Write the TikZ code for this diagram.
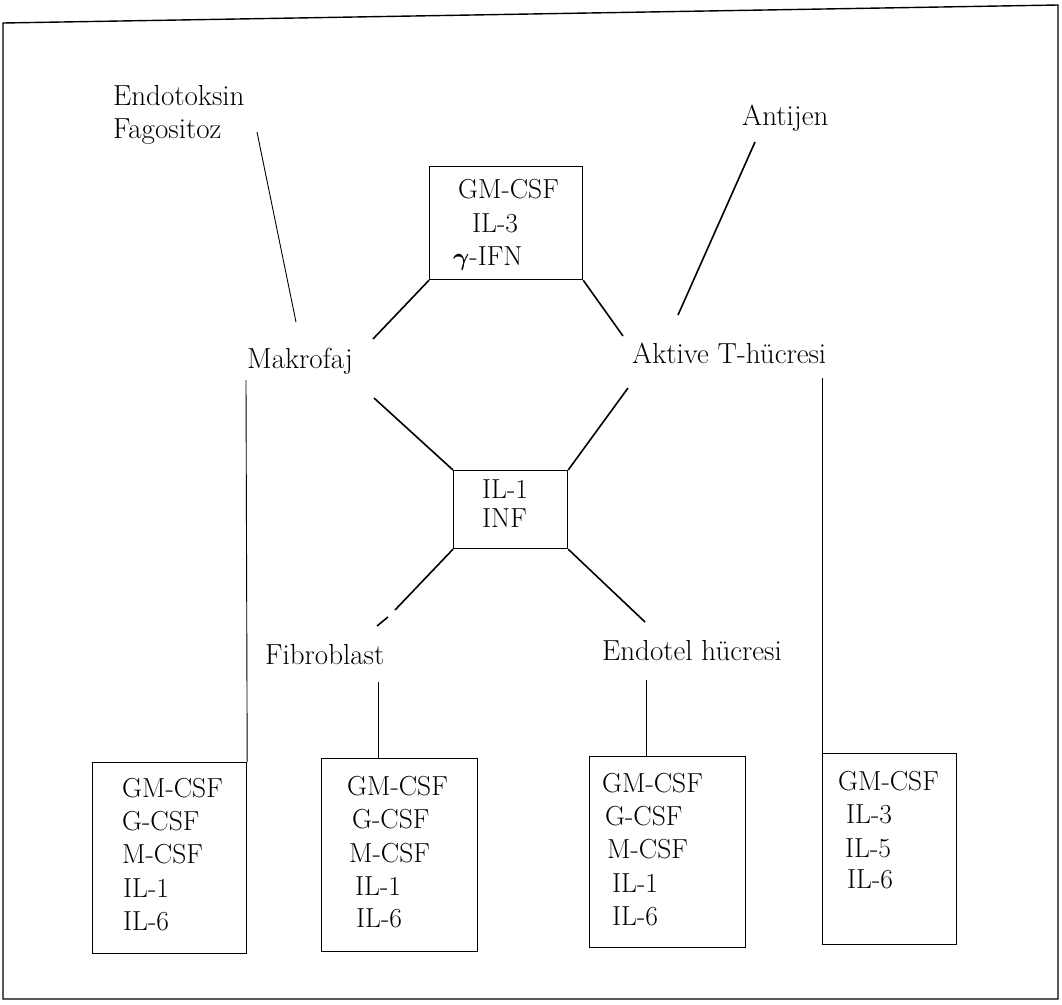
\documentclass[tikz,border=0pt]{standalone}
\begin{document}
\begin{tikzpicture}[x=1pt,y=-1pt,
  lbl/.style={font=\fontsize{27.5}{32}\selectfont, inner sep=0pt, anchor=base west},
  word/.style={lbl, font=\fontsize{29}{34}\selectfont},
  bx/.style={draw, line width=1.2pt, inner sep=0pt, anchor=north west},
  conn/.style={line width=1.6pt},
  vconn/.style={line width=0.9pt},
  frame/.style={line width=1.4pt}]
\useasboundingbox (0,0) rectangle (1062,1004);
% outer frame
\draw[frame] (3,23) -- (1058,5) -- (1058,999) -- (3,999) -- cycle;

% boxes
\node[bx, minimum width=153, minimum height=113] (topbox) at (429,166) {};
\node[bx, minimum width=114, minimum height=78]  (ilbox)  at (453,470) {};
\node[bx, minimum width=154, minimum height=191] (mbox)   at (92,762)  {};
\node[bx, minimum width=156, minimum height=193] (fbox)   at (321,758) {};
\node[bx, minimum width=156, minimum height=191] (ebox)   at (589,756) {};
\node[bx, minimum width=134, minimum height=191] (tbox)   at (822,753) {};

% free labels
\node[word] (endo)  at (113,105) {Endotoksin};
\node[word] (fago)  at (113,138) {Fagositoz};
\node[word] (anti)  at (742,125) {Antijen};
\node[word] (makro) at (247,368) {Makrofaj};
\node[word] (tcell) at (632,363) {Aktive T-hücresi};
\node[word] (fibro) at (265,664) {Fibroblast};
\node[word] (endot) at (602,660) {Endotel hücresi};

% top box contents
\node[lbl] (tb1) at (458,198) {GM-CSF};
\node[lbl] (tb2) at (472,232) {IL-3};
\node[lbl] (tb3) at (453,265) {{\boldmath$\gamma$}-IFN};

% IL-1 box contents
\node[lbl] (il1) at (482,498) {IL-1};
\node[lbl] (il2) at (482,527) {INF};

% Makrofaj box
\node[lbl] (m1) at (122,797) {GM-CSF};
\node[lbl] (m2) at (122,830) {G-CSF};
\node[lbl] (m3) at (122,863) {M-CSF};
\node[lbl] (m4) at (123,897) {IL-1};
\node[lbl] (m5) at (123,930) {IL-6};

% Fibroblast box
\node[lbl] (f1) at (347,795) {GM-CSF};
\node[lbl] (f2) at (352,828) {G-CSF};
\node[lbl] (f3) at (349,862) {M-CSF};
\node[lbl] (f4) at (355,895) {IL-1};
\node[lbl] (f5) at (356,927) {IL-6};

% Endotel box
\node[lbl] (e1) at (602,792) {GM-CSF};
\node[lbl] (e2) at (605,825) {G-CSF};
\node[lbl] (e3) at (607,858) {M-CSF};
\node[lbl] (e4) at (612,892) {IL-1};
\node[lbl] (e5) at (612,925) {IL-6};

% T-cell box
\node[lbl] (t1) at (838,790) {GM-CSF};
\node[lbl] (t2) at (846,823) {IL-3};
\node[lbl] (t3) at (845,857) {IL-5};
\node[lbl] (t4) at (847,888) {IL-6};

% connector end points
\coordinate (fagoEnd) at (257,132);
\coordinate (makUp)   at (296,322);
\coordinate (makTR)   at (373,339);
\coordinate (tcTL)    at (623,336);
\coordinate (antiEnd) at (755,142);
\coordinate (tcUp)    at (678,315);
\coordinate (makBR)   at (374,398);
\coordinate (tcBL)    at (628,388);
\coordinate (fibTR)   at (395,610);
\coordinate (stubA)   at (388,617);
\coordinate (stubB)   at (377,626);
\coordinate (endTL)   at (645,622);
\coordinate (makDown) at (246,380);
\coordinate (fibDown) at (378,682);
\coordinate (endDown) at (646,680);
\coordinate (tcDown)  at (822,378);

% connectors
\draw[vconn] (fagoEnd) -- (makUp);
\draw[conn] (topbox.south west) -- (makTR);
\draw[conn] (topbox.south east) -- (tcTL);
\draw[conn] (antiEnd) -- (tcUp);
\draw[conn] (makBR) -- (ilbox.north west);
\draw[conn] (tcBL) -- (ilbox.north east);
\draw[conn] (ilbox.south west) -- (fibTR);
\draw[conn] (stubA) -- (stubB);
\draw[conn] (ilbox.south east) -- (endTL);
\draw[vconn] (makDown) -- (mbox.north east);
\draw[vconn] (fibDown) -- (fibDown |- fbox.north);
\draw[vconn] (endDown) -- (endDown |- ebox.north);
\draw[vconn] (tcDown) -- (tbox.north west);
\end{tikzpicture}
\end{document}
